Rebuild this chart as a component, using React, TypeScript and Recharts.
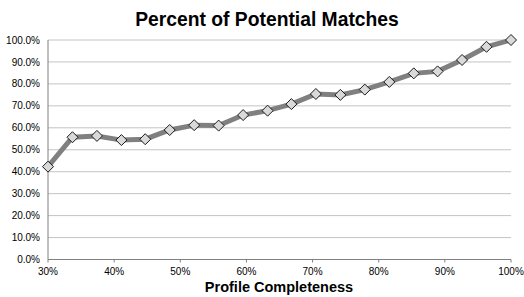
import React from "react";
import { LineChart, Line, XAxis, YAxis, CartesianGrid } from "recharts";

const completeness = [30, 33.7, 37.4, 41.1, 44.7, 48.4, 52.1, 55.8, 59.5, 63.2, 66.8, 70.5, 74.2, 77.9, 81.6, 85.3, 88.9, 92.6, 96.3, 100];
const matches = [42.3, 55.7, 56.3, 54.4, 54.8, 59.0, 61.2, 61.0, 65.8, 67.8, 70.8, 75.4, 75.0, 77.4, 80.9, 84.8, 85.7, 90.9, 96.9, 100];
const xTicks = [30, 40, 50, 60, 70, 80, 90, 100];
const yTicks = [0, 10, 20, 30, 40, 50, 60, 70, 80, 90, 100];
const title = "Percent of Potential Matches";
const xTitle = "Profile Completeness";

const data = completeness.map((x, i) => ({ x, y: matches[i] }));

const FONT = '"Liberation Sans", Arial, Helvetica, sans-serif';

const Diamond = (props: any) => {
  const { cx, cy, index } = props;
  if (cx == null || cy == null) return null;
  const r = 5.5;
  return (
    <polygon
      key={index}
      points={`${cx},${cy - r} ${cx + r},${cy} ${cx},${cy + r} ${cx - r},${cy}`}
      fill="#d9d9d9"
      stroke="#1a1a1a"
      strokeWidth={1}
    />
  );
};

export default function App() {
  return (
    <div style={{ position: "absolute", left: 0, top: 0, width: 524, height: 297, background: "#fff" }}>
      <LineChart
        width={524}
        height={297}
        data={data}
        margin={{ top: 40, right: 13, bottom: 8, left: 0 }}
      >
        <CartesianGrid horizontal vertical={false} stroke="#c4c4c4" strokeWidth={1} />
        <XAxis
          dataKey="x"
          type="number"
          domain={[30, 100]}
          ticks={xTicks}
          tickFormatter={(v: number) => `${v}%`}
          stroke="#808080"
          tickSize={3}
          tickMargin={5}
          height={29.5}
          tick={{ fill: "#000", fontSize: 10, fontFamily: FONT }}
          interval={0}
        />
        <YAxis
          type="number"
          domain={[0, 100]}
          ticks={yTicks}
          tickFormatter={(v: number) => `${v.toFixed(1)}%`}
          stroke="#808080"
          tickLine={false}
          tickSize={5}
          tickMargin={3}
          width={48}
          tick={{ fill: "#000", fontSize: 10, fontFamily: FONT }}
          interval={0}
        />
        <Line
          dataKey="y"
          stroke="#808080"
          strokeWidth={5}
          dot={<Diamond />}
          activeDot={false}
          isAnimationActive={false}
        />
      </LineChart>
      <svg
        width={524}
        height={297}
        style={{ position: "absolute", left: 0, top: 0, pointerEvents: "none" }}
      >
        <text x={267} y={26} textAnchor="middle" fontFamily={FONT} fontWeight="bold" fontSize={19.3} fill="#000">
          {title}
        </text>
        <text x={279} y={292} textAnchor="middle" fontFamily={FONT} fontWeight="bold" fontSize={14.5} fill="#000">
          {xTitle}
        </text>
      </svg>
    </div>
  );
}
